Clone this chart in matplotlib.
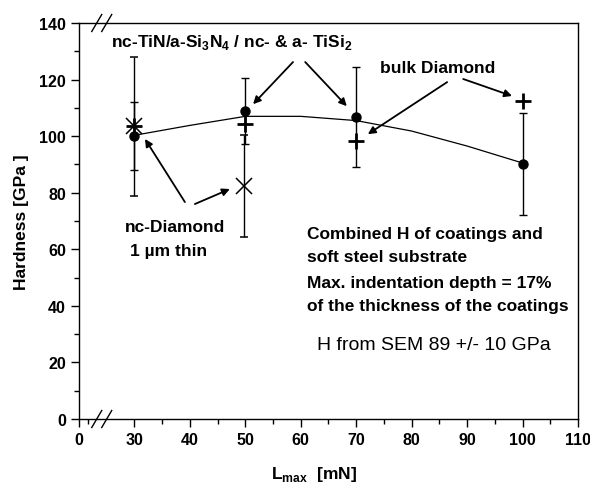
import matplotlib
matplotlib.use("Agg")
import matplotlib.pyplot as plt
from matplotlib.ticker import FixedLocator, FixedFormatter

plt.rcParams['font.family'] = ['Liberation Sans', 'DejaVu Sans']

# nc-TiN/a-Si3N4 / nc- & a- TiSi2 (circles)
tin_x = [30, 50, 70, 100]
tin_y = [100.0, 108.8, 106.8, 90.2]
tin_err = [12.0, 11.7, 17.7, 18.0]

# bulk Diamond (plus)
bulk_x = [30, 50, 70, 100]
bulk_y = [103.5, 104.2, 98.2, 112.4]

# nc-Diamond 1 um thin (x)
ncd_x = [30, 49.7]
ncd_y = [103.5, 82.3]
ncd_err = [24.5, 18.0]

# guide curve through circles
fit_x = [30, 40, 50, 60, 70, 80, 90, 100]
fit_y = [100.3, 103.8, 107.0, 107.0, 105.5, 101.8, 96.5, 90.5]

xticks = [20, 30, 40, 50, 60, 70, 80, 90, 100, 110]
xticklabels = ['0', '30', '40', '50', '60', '70', '80', '90', '100', '110']
yticks = [0, 20, 40, 60, 80, 100, 120, 140]

fig = plt.figure(figsize=(5.9, 4.85), dpi=100)
ax = fig.add_axes([79/590, 1-420/485, (578-79)/590, (420-24)/485])

ax.plot(fit_x, fit_y, color='black', lw=0.9, zorder=2)
ax.errorbar(tin_x, tin_y, yerr=tin_err, fmt='o', color='black', ms=6.5,
            ecolor='black', elinewidth=1, capsize=3, capthick=1, zorder=3)
ax.errorbar(ncd_x, ncd_y, yerr=ncd_err, fmt='x', color='black', ms=11, mew=1.1,
            ecolor='black', elinewidth=1, capsize=3, capthick=1, zorder=3)
ax.plot(bulk_x, bulk_y, '+', color='black', ms=12, mew=2, ls='none', zorder=4)

ax.set_xlim(20, 110)
ax.set_ylim(0, 140)
ax.xaxis.set_major_locator(FixedLocator(xticks))
ax.xaxis.set_major_formatter(FixedFormatter(xticklabels))
ax.xaxis.set_minor_locator(FixedLocator([21.6, 35, 45, 55, 65, 75, 85, 95, 105]))
ax.set_yticks(yticks)
ax.yaxis.set_minor_locator(FixedLocator([10, 30, 50, 70, 90, 110, 130]))
ax.tick_params(which='major', direction='out', length=6, width=1, labelsize=11.5)
ax.tick_params(which='minor', direction='out', length=3.5, width=1)
for lab in ax.get_xticklabels() + ax.get_yticklabels():
    lab.set_fontweight('bold')
for s in ax.spines.values():
    s.set_linewidth(1)

# axis break marks
for xb in [23.2, 25.0]:
    for yb in [0, 140]:
        ax.plot([xb - 0.9, xb + 0.9], [yb - 3.0, yb + 3.0], color='black', lw=1,
                clip_on=False, zorder=5)

ax.set_ylabel('Hardness [GPa ]', fontsize=12.5, fontweight='bold', labelpad=7)
ax.set_xlabel(r'L$_{\mathregular{max}}$  [mN]', fontsize=12.5, fontweight='bold', labelpad=12)
ax.xaxis.label.set_x(0.471)

bold = dict(fontsize=12.5, fontweight='bold')
ax.text(47.6, 133.3, r'nc-TiN/a-Si$_\mathregular{3}$N$_\mathregular{4}$ / nc- & a- TiSi$_\mathregular{2}$',
        ha='center', va='center', **bold)
ax.text(84.6, 124.1, 'bulk Diamond', ha='center', va='center', **bold)
ax.text(28.3, 68.2, 'nc-Diamond', ha='left', va='center', **bold)
ax.text(29.2, 59.4, '1 µm thin', ha='left', va='center', **bold)
for yy, tt in zip([65.7, 57.3, 48.4, 40.3],
                  ['Combined H of coatings and', 'soft steel substrate',
                   'Max. indentation depth = 17%', 'of the thickness of the coatings']):
    ax.text(61.1, yy, tt, ha='left', va='center', **bold)
ax.text(84.0, 26.5, 'H from SEM 89 +/- 10 GPa', ha='center', va='center', fontsize=14)

ap = dict(arrowstyle='-|>', color='black', lw=1.3, mutation_scale=11, shrinkA=0, shrinkB=0)
arrows = [((58.6, 126.2), (51.4, 111.3)),
          ((60.8, 126.2), (68.3, 110.6)),
          ((86.4, 119.1), (72.1, 100.7)),
          ((89.3, 120.2), (98.1, 114.2)),
          ((39.1, 76.7), (31.9, 99.0)),
          ((40.9, 76.0), (47.2, 81.3))]
for start, end in arrows:
    ax.annotate('', xy=end, xytext=start, arrowprops=ap)

fig.savefig('out.png', dpi=100)
